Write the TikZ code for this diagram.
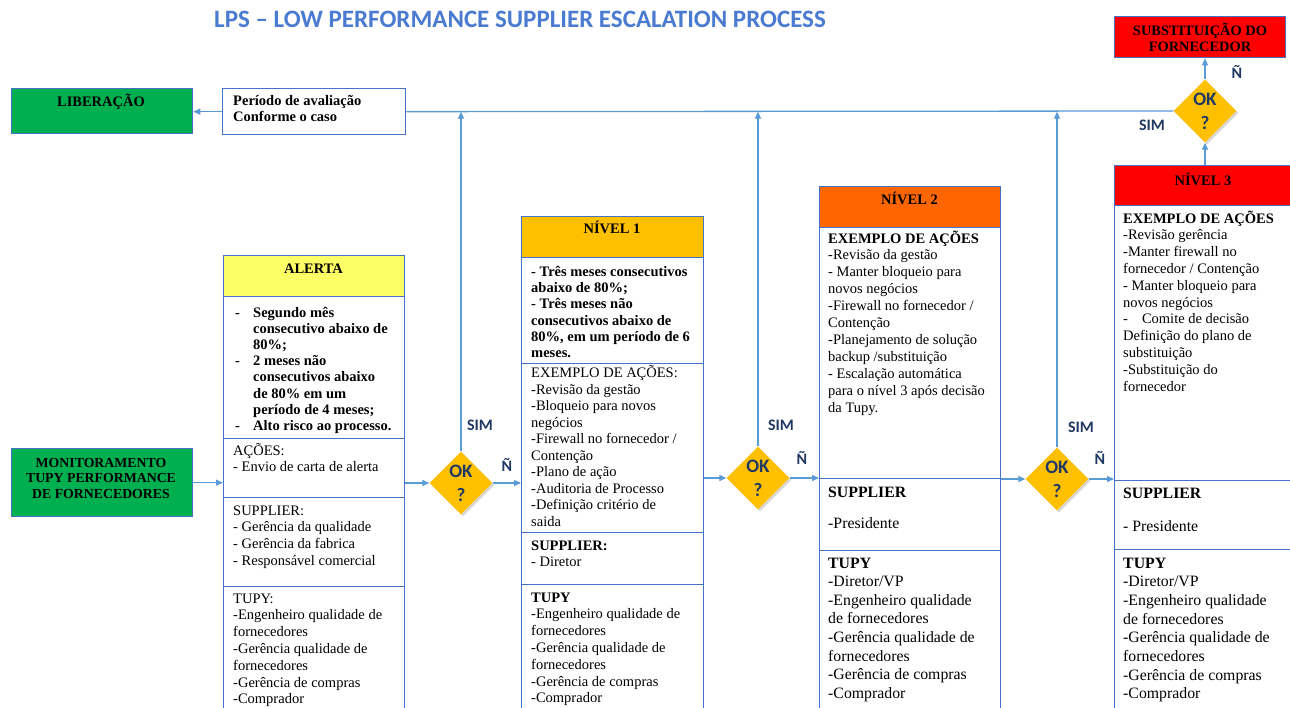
\documentclass[tikz,border=0pt]{standalone}
\usepackage{fontspec}
\setmainfont{Liberation Serif}
\newfontfamily\calib{Carlito}
\usetikzlibrary{shapes.geometric,arrows.meta,shadows}
\definecolor{bordr}{HTML}{4472C4}
\definecolor{arrc}{HTML}{5B9BD5}
\definecolor{grn}{HTML}{00B050}
\definecolor{ylw}{HTML}{FFFF66}
\definecolor{amb}{HTML}{FFC000}
\definecolor{org}{HTML}{FF6600}
\definecolor{rd}{HTML}{FF0000}
\definecolor{navy}{HTML}{203864}
\definecolor{ttl}{HTML}{4A7BD0}
\newcommand{\mylines}[1]{\begin{tabular}[t]{@{}l@{}}#1\end{tabular}}
\newcommand{\mycent}[1]{\begin{tabular}[t]{@{}c@{}}#1\end{tabular}}
\newcommand{\mybul}[1]{\begin{tabular}[t]{@{}p{18pt}@{}l@{}}#1\end{tabular}}
\tikzset{
  sect/.style={draw=bordr, line width=1.3pt, anchor=north west, inner sep=0pt, fill=white},
  txt/.style={anchor=base west, inner sep=0pt, font=\fontsize{14.5}{16.8}\selectfont},
  hdr/.style={anchor=base, inner sep=0pt, font=\bfseries\fontsize{14.5}{16}\selectfont},
  arr/.style={draw=arrc, line width=1.3pt, -{Triangle[length=7pt,width=6pt]}},
  plainline/.style={draw=arrc, line width=1.3pt},
  dia/.style={diamond, fill=amb, minimum size=63pt, inner sep=0pt,
    drop shadow={opacity=0.3, shadow xshift=2pt, shadow yshift=-2pt}},
  oklab/.style={font=\calib\bfseries\fontsize{19}{19}\selectfont, text=navy, inner sep=0pt},
  yn/.style={font=\calib\bfseries\fontsize{16}{16}\selectfont, text=navy, inner sep=0pt}
}
\begin{document}
\begin{tikzpicture}[x=1pt,y=-1pt]
\useasboundingbox (0,0) rectangle (1290,707);
\clip (0,0) rectangle (1290,707);
\fill[white] (0,0) rectangle (1290,707);

% title
\node[font=\calib\bfseries\fontsize{25}{25}\selectfont, text=ttl, inner sep=0pt] (title) at (520,19) {LPS – LOW PERFORMANCE SUPPLIER ESCALATION PROCESS};

% top row
\node[sect, fill=grn, minimum width=181pt, minimum height=45pt] (lib) at (11,88) {};
\node[hdr] (libt) at (101,106) {LIBERAÇÃO};
\node[sect, minimum width=183pt, minimum height=46pt] (per) at (222,88) {};
\node[txt, font=\bfseries\fontsize{14.5}{16}\selectfont] (pert) at (233,105.5) {\mylines{Período de avaliação\\Conforme o caso}};
\node[sect, fill=rd, minimum width=171pt, minimum height=41pt] (subst) at (1114,16) {};
\node[hdr, font=\bfseries\fontsize{14.4}{16.5}\selectfont] (substt) at (1200,35) {\mycent{SUBSTITUIÇÃO DO\\FORNECEDOR}};

% monitoramento
\node[sect, fill=grn, minimum width=181pt, minimum height=68pt] (mon) at (11,448) {};
\node[hdr, font=\bfseries\fontsize{13.8}{15.5}\selectfont] (mont) at (101,467) {\mycent{MONITORAMENTO\\TUPY PERFORMANCE\\DE FORNECEDORES}};

% ALERTA column
\node[sect, fill=ylw, minimum width=181pt, minimum height=41pt] (aH) at (223,255) {};
\node[sect, minimum width=181pt, minimum height=142pt] (a2) at (223,296) {};
\node[sect, minimum width=181pt, minimum height=59pt] (a3) at (223,438) {};
\node[sect, minimum width=181pt, minimum height=89pt] (a4) at (223,497) {};
\node[sect, minimum width=181pt, minimum height=140pt] (a5) at (223,586) {};
\node[hdr] (aHt) at (313.5,273) {ALERTA};
\node[txt, font=\bfseries\fontsize{14.5}{16.1}\selectfont] (a2t) at (235,317.5) {\mybul{-&Segundo mês\\&consecutivo abaixo de\\&80\%;\\-&2 meses não\\&consecutivos abaixo\\&de 80\% em um\\&período de 4 meses;\\-&Alto risco ao processo.}};
\node[txt, font=\fontsize{14.5}{16}\selectfont] (a3t) at (233,455) {\mylines{AÇÕES:\\- Envio de carta de alerta}};
\node[txt] (a4t) at (233,515) {\mylines{SUPPLIER:\\- Gerência da qualidade\\- Gerência da fabrica\\- Responsável comercial}};
\node[txt] (a5t) at (233,603) {\mylines{TUPY:\\-Engenheiro qualidade de\\fornecedores\\-Gerência qualidade de\\fornecedores\\-Gerência de compras\\-Comprador}};

% NIVEL 1 column
\node[sect, fill=amb, minimum width=182pt, minimum height=41pt] (bH) at (521,216) {};
\node[sect, minimum width=182pt, minimum height=106pt] (b2) at (521,257) {};
\node[sect, minimum width=182pt, minimum height=169pt] (b3) at (521,363) {};
\node[sect, minimum width=182pt, minimum height=52pt] (b4) at (521,532) {};
\node[sect, minimum width=182pt, minimum height=140pt] (b5) at (521,584) {};
\node[hdr] (bHt) at (612,233) {NÍVEL 1};
\node[txt, font=\bfseries\fontsize{14.5}{16.2}\selectfont] (b2t) at (531,276.5) {\mylines{- Três meses consecutivos\\abaixo de 80\%;\\- Três meses não\\consecutivos abaixo de\\80\%, em um período de 6\\meses.}};
\node[txt, font=\fontsize{14.5}{16.5}\selectfont] (b3t) at (531,377.5) {\mylines{EXEMPLO DE AÇÕES:\\-Revisão da gestão\\-Bloqueio para novos\\negócios\\-Firewall no fornecedor /\\Contenção\\-Plano de ação\\-Auditoria de Processo\\-Definição critério de\\saida}};
\node[txt, font=\fontsize{14.5}{16.5}\selectfont] (b4t) at (531,550) {\mylines{\textbf{SUPPLIER:}\\- Diretor}};
\node[txt] (b5t) at (531,602) {\mylines{\textbf{TUPY}\\-Engenheiro qualidade de\\fornecedores\\-Gerência qualidade de\\fornecedores\\-Gerência de compras\\-Comprador}};

% NIVEL 2 column
\node[sect, fill=org, minimum width=181pt, minimum height=41pt] (cH) at (819,186) {};
\node[sect, minimum width=181pt, minimum height=251pt] (c2) at (819,227) {};
\node[sect, minimum width=181pt, minimum height=72pt] (c3) at (819,478) {};
\node[sect, minimum width=181pt, minimum height=170pt] (c4) at (819,550) {};
\node[hdr] (cHt) at (909.5,204) {NÍVEL 2};
\node[txt, font=\fontsize{14.5}{16.9}\selectfont] (c2t) at (828,243) {\mylines{\textbf{EXEMPLO DE AÇÕES}\\-Revisão da gestão\\- Manter bloqueio para\\novos negócios\\-Firewall no fornecedor /\\Contenção\\-Planejamento de solução\\backup /substituição\\- Escalação automática\\para o nível 3 após decisão\\da Tupy.}};
\node[txt, font=\fontsize{15.8}{15.75}\selectfont] (c3t) at (828,497) {\mylines{\textbf{SUPPLIER}\\ \\-Presidente}};
\node[txt, font=\fontsize{15.8}{18.6}\selectfont] (c4t) at (828,568) {\mylines{\textbf{TUPY}\\-Diretor/VP\\-Engenheiro qualidade\\de fornecedores\\-Gerência qualidade de\\fornecedores\\-Gerência de compras\\-Comprador}};

% NIVEL 3 column
\node[sect, fill=rd, minimum width=178pt, minimum height=40pt] (eH) at (1114,165) {};
\node[sect, minimum width=178pt, minimum height=275pt] (e2) at (1114,205) {};
\node[sect, minimum width=178pt, minimum height=69pt] (e3) at (1114,480) {};
\node[sect, minimum width=178pt, minimum height=170pt] (e4) at (1114,549) {};
\node[hdr] (eHt) at (1203,185) {NÍVEL 3};
\node[txt, font=\fontsize{14.5}{16.8}\selectfont] (e2t) at (1123,223) {\mylines{\textbf{EXEMPLO DE AÇÕES}\\-Revisão gerência\\-Manter firewall no\\fornecedor / Contenção\\- Manter bloqueio para\\novos negócios\\-\hspace{14pt}Comite de decisão\\Definição do plano de\\substituição\\-Substituição do\\fornecedor}};
\node[txt, font=\fontsize{15.8}{16.75}\selectfont] (e3t) at (1123,498) {\mylines{\textbf{SUPPLIER}\\ \\- Presidente}};
\node[txt, font=\fontsize{15.8}{18.7}\selectfont] (e4t) at (1123,568) {\mylines{\textbf{TUPY}\\-Diretor/VP\\-Engenheiro qualidade\\de fornecedores\\-Gerência qualidade de\\fornecedores\\-Gerência de compras\\-Comprador}};

% diamonds
\node[dia] (k1) at (461,483) {};
\node[dia] (k2) at (758,478) {};
\node[dia] (k3) at (1057,479) {};
\node[dia] (k4) at (1205,111) {};
\foreach \k in {k1,k2,k3,k4}{
  \node[oklab] (\k a) at ([yshift=12pt]\k.center) {OK};
  \node[oklab] (\k b) at ([yshift=-12pt]\k.center) {?};
}

% connectors
\draw[arr] (per.west) -- (per.west -| lib.east);
\draw[plainline] (per.east) -- (k4.west);
\draw[arr] (mon.east) -- (mon.east -| a3.west);
\draw[arr] (a3.east |- k1.west) -- (k1.west);
\draw[arr] (k1.east) -- (k1.east -| b3.west);
\draw[arr] (k1.north) -- (k1.north |- per.east);
\draw[arr] (b3.east |- k2.west) -- (k2.west);
\draw[arr] (k2.east) -- (k2.east -| c3.west);
\draw[arr] (k2.north) -- (k2.north |- per.east);
\draw[arr] (c2.east |- k3.west) -- (k3.west);
\draw[arr] (k3.east) -- (k3.east -| e3.west);
\draw[arr] (k3.north) -- (k3.north |- per.east);
\draw[arr] (k4.north) -- (k4.north |- subst.south);
\draw[arr] (eH.north -| k4.south) -- (k4.south);

% labels
\node[yn] (sim1) at (480,425) {SIM};
\node[yn] (n1) at (507,465) {Ñ};
\node[yn] (sim2) at (781,425) {SIM};
\node[yn] (n2) at (802,458) {Ñ};
\node[yn] (sim3) at (1081,427) {SIM};
\node[yn] (n3) at (1100,458) {Ñ};
\node[yn] (sim4) at (1152,125) {SIM};
\node[yn] (n4) at (1237,72) {Ñ};
\end{tikzpicture}
\end{document}
